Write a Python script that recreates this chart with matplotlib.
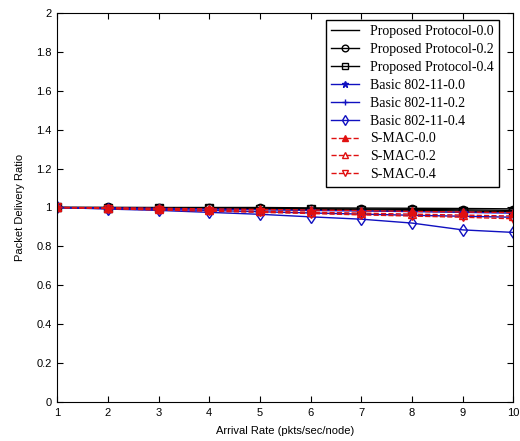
import numpy as np
import matplotlib
matplotlib.use("Agg")
import matplotlib.pyplot as plt

# --- Data ---
rates = [1, 2, 3, 4, 5, 6, 7, 8, 9, 10]

proposed_00 = [1.0, 1.0, 1.0, 1.0, 1.0, 0.998, 0.997, 0.996, 0.995, 0.993]
proposed_02 = [1.0, 1.0, 0.999, 0.998, 0.996, 0.994, 0.992, 0.99, 0.988, 0.985]
proposed_04 = [1.0, 0.999, 0.998, 0.996, 0.993, 0.99, 0.988, 0.985, 0.982, 0.978]
basic_00 = [1.0, 0.998, 0.995, 0.992, 0.988, 0.985, 0.982, 0.979, 0.975, 0.971]
basic_02 = [1.0, 0.995, 0.99, 0.985, 0.978, 0.972, 0.966, 0.96, 0.955, 0.95]
basic_04 = [1.0, 0.992, 0.985, 0.975, 0.965, 0.952, 0.94, 0.92, 0.885, 0.872]
smac_00 = [1.0, 0.999, 0.996, 0.993, 0.99, 0.987, 0.984, 0.98, 0.977, 0.974]
smac_02 = [1.0, 0.996, 0.991, 0.986, 0.981, 0.976, 0.971, 0.966, 0.961, 0.956]
smac_04 = [1.0, 0.994, 0.987, 0.981, 0.975, 0.969, 0.962, 0.956, 0.95, 0.942]

series = [
    ("Proposed Protocol-0.0", proposed_00, "k", "-", None, "k"),
    ("Proposed Protocol-0.2", proposed_02, "k", "-", "o", "none"),
    ("Proposed Protocol-0.4", proposed_04, "k", "-", "s", "none"),
    ("Basic 802-11-0.0", basic_00, "#1010c0", "-", "*", "#1010c0"),
    ("Basic 802-11-0.2", basic_02, "#1010c0", "-", "+", "#1010c0"),
    ("Basic 802-11-0.4", basic_04, "#1010c0", "-", "d", "none"),
    ("S-MAC-0.0", smac_00, "#e01010", "--", "^", "#e01010"),
    ("S-MAC-0.2", smac_02, "#e01010", "--", "^", "none"),
    ("S-MAC-0.4", smac_04, "#e01010", "--", "v", "none"),
]

fig = plt.figure(figsize=(5.2, 4.41), dpi=100)
ax = fig.add_axes([0.11, 0.088, 0.877, 0.883])

for label, vals, col, ls, mk, mfc in series:
    ax.plot(rates, vals, color=col, linestyle=ls, marker=mk, markersize=6,
            markerfacecolor=mfc, markeredgecolor=col, linewidth=1.0, label=label)

ax.set_xlim(1, 10)
ax.set_ylim(0, 2)
ax.set_xticks(rates)
ax.set_yticks(np.arange(0, 2.01, 0.2))
ax.set_yticklabels([f"{v:g}" for v in np.arange(0, 2.01, 0.2).round(1)])
ax.tick_params(direction="in", top=True, right=True, length=4,
               labelsize=8, pad=4)
for lab in ax.get_xticklabels() + ax.get_yticklabels():
    lab.set_family("Liberation Sans")

ax.set_xlabel("Arrival Rate (pkts/sec/node)", fontsize=8,
              family="Liberation Sans", labelpad=6)
ax.set_ylabel("Packet Delivery Ratio", fontsize=8,
              family="Liberation Sans", labelpad=8)

leg = ax.legend(loc="upper right", prop={"family": "Liberation Serif", "size": 10},
                fancybox=False, framealpha=1, edgecolor="k", borderaxespad=0.5,
                labelspacing=0.35, handlelength=2.0, markerscale=0.8,
                bbox_to_anchor=(0.985, 1.0))
leg.get_frame().set_linewidth(1.0)

fig.savefig("out.png", dpi=100)
